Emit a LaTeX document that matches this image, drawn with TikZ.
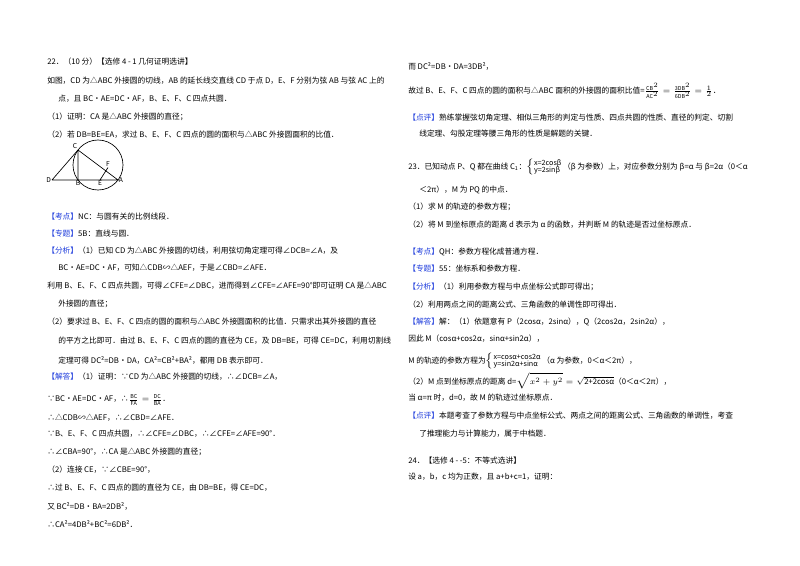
\documentclass[tikz,border=0pt]{standalone}
\usepackage{fontspec}
\setmainfont{Noto Sans CJK SC}
\definecolor{lb}{RGB}{30,60,220}
\newcommand{\bk}[1]{\textcolor{lb}{【#1】}}
\newcommand{\csys}[2]{$\left\{\mbox{\fontsize{5.4pt}{6pt}\selectfont\begin{tabular}{@{}l@{}}#1\\[-1pt] #2\end{tabular}}\right.$}
\begin{document}
\begin{tikzpicture}[x=0.75pt,y=-0.75pt,
  t/.style={anchor=west,inner sep=0,font=\fontsize{5.8pt}{7pt}\selectfont},
  lab/.style={inner sep=0.5pt,font=\fontsize{5pt}{6pt}\selectfont\itshape}]
\useasboundingbox (0,0) rectangle (800,565);
% left column
\node[t] (l1) at (47,62) {22．（10 分）【选修 4 - 1 几何证明选讲】};
\node[t] (l2) at (47,81) {如图，CD 为△ABC 外接圆的切线，AB 的延长线交直线 CD 于点 D，E、F 分别为弦 AB 与弦 AC 上的};
\node[t] (l3) at (58,99) {点，且 BC•AE=DC•AF，B、E、F、C 四点共圆．};
\node[t] (l4) at (47,117) {（1）证明：CA 是△ABC 外接圆的直径；};
\node[t] (l5) at (47,135) {（2）若 DB=BE=EA，求过 B、E、F、C 四点的圆的面积与△ABC 外接圆面积的比值．};
% figure
\coordinate (O) at (98,165);
\draw[line width=0.5pt] (O) circle[radius=25];
\coordinate (C) at (78,150); \coordinate (D) at (52,180);
\coordinate (B) at (78,180); \coordinate (E) at (100,180);
\coordinate (A) at (118,180); \coordinate (F) at (108,167.5);
\draw[line width=0.5pt] (D)--(C)--(A)--(D) (C)--(B) (E)--(F);
\node[lab,above left] (nC) at (C) {C};
\node[lab,left] (nD) at (D) {D};
\node[lab,below] (nB) at (B) {B};
\node[lab,below] (nE) at (E) {E};
\node[lab,right] (nA) at (A) {A};
\node[lab,above] (nF) at (F) {F};
\node[t] (l6) at (47,217) {\bk{考点}NC：与圆有关的比例线段．};
\node[t] (l7) at (47,234) {\bk{专题}5B：直线与圆．};
\node[t] (l8) at (47,251) {\bk{分析}（1）已知 CD 为△ABC 外接圆的切线，利用弦切角定理可得∠DCB=∠A，及};
\node[t] (l9) at (58,268) {BC•AE=DC•AF，可知△CDB∽△AEF，于是∠CBD=∠AFE．};
\node[t] (l10) at (47,286) {利用 B、E、F、C 四点共圆，可得∠CFE=∠DBC，进而得到∠CFE=∠AFE=90°即可证明 CA 是△ABC};
\node[t] (l11) at (58,304) {外接圆的直径；};
\node[t] (l12) at (47,322) {（2）要求过 B、E、F、C 四点的圆的面积与△ABC 外接圆面积的比值．只需求出其外接圆的直径};
\node[t] (l13) at (58,341) {的平方之比即可．由过 B、E、F、C 四点的圆的直径为 CE，及 DB=BE，可得 CE=DC，利用切割线};
\node[t] (l14) at (58,360) {定理可得 DC²=DB•DA，CA²=CB²+BA²，都用 DB 表示即可．};
\node[t] (l15) at (47,377) {\bk{解答}（1）证明：∵CD 为△ABC 外接圆的切线，∴∠DCB=∠A，};
\node[t] (l16) at (47,400) {∵BC•AE=DC•AF，∴$\frac{\mathrm{BC}}{\mathrm{FA}}=\frac{\mathrm{DC}}{\mathrm{BA}}$．};
\node[t] (l17) at (47,418) {∴△CDB∽△AEF，∴∠CBD=∠AFE．};
\node[t] (l18) at (47,434) {∵B、E、F、C 四点共圆，∴∠CFE=∠DBC，∴∠CFE=∠AFE=90°．};
\node[t] (l19) at (47,452) {∴∠CBA=90°，∴CA 是△ABC 外接圆的直径；};
\node[t] (l20) at (47,470) {（2）连接 CE，∵∠CBE=90°，};
\node[t] (l21) at (47,488) {∴过 B、E、F、C 四点的圆的直径为 CE，由 DB=BE，得 CE=DC，};
\node[t] (l22) at (47,506) {又 BC²=DB•BA=2DB²，};
\node[t] (l23) at (47,524) {∴CA²=4DB²+BC²=6DB²．};
% right column
\node[t] (r1) at (408,66) {而 DC²=DB•DA=3DB²，};
\node[t] (r2) at (408,91) {故过 B、E、F、C 四点的圆的面积与△ABC 面积的外接圆的面积比值=$\frac{\mathrm{CB}^2}{\mathrm{AC}^2}=\frac{\mathrm{3DB}^2}{\mathrm{6DB}^2}=\frac{1}{2}$．};
\node[t] (r3) at (408,118) {\bk{点评}熟练掌握弦切角定理、相似三角形的判定与性质、四点共圆的性质、直径的判定、切割};
\node[t] (r4) at (419,134) {线定理、勾股定理等腰三角形的性质是解题的关键．};
\node[t] (r5) at (408,167) {23．已知动点 P、Q 都在曲线 C\textsubscript{1}：\csys{x=2cosβ}{y=2sinβ}（β 为参数）上，对应参数分别为 β=α 与 β=2α（0＜α};
\node[t] (r6) at (419,190) {＜2π），M 为 PQ 的中点．};
\node[t] (r7) at (408,207) {（1）求 M 的轨迹的参数方程；};
\node[t] (r8) at (408,225) {（2）将 M 到坐标原点的距离 d 表示为 α 的函数，并判断 M 的轨迹是否过坐标原点．};
\node[t] (r9) at (408,252) {\bk{考点}QH：参数方程化成普通方程．};
\node[t] (r10) at (408,269) {\bk{专题}55：坐标系和参数方程．};
\node[t] (r11) at (408,287) {\bk{分析}（1）利用参数方程与中点坐标公式即可得出；};
\node[t] (r12) at (408,305) {（2）利用两点之间的距离公式、三角函数的单调性即可得出．};
\node[t] (r13) at (408,322) {\bk{解答}解：（1）依题意有 P（2cosα，2sinα），Q（2cos2α，2sin2α），};
\node[t] (r14) at (408,339) {因此 M（cosα+cos2α，sinα+sin2α），};
\node[t] (r15) at (408,361) {M 的轨迹的参数方程为\csys{x=cosα+cos2α}{y=sin2α+sinα}（α 为参数，0＜α＜2π），};
\node[t] (r16) at (408,381) {（2）M 点到坐标原点的距离 d=$\sqrt{x^2+y^2}=\sqrt{\mbox{2+2cosα}}$（0＜α＜2π），};
\node[t] (r17) at (408,398) {当 α=π 时，d=0，故 M 的轨迹过坐标原点．};
\node[t] (r18) at (408,416) {\bk{点评}本题考查了参数方程与中点坐标公式、两点之间的距离公式、三角函数的单调性，考查};
\node[t] (r19) at (419,434) {了推理能力与计算能力，属于中档题．};
\node[t] (r20) at (408,461) {24．【选修 4 - -5：不等式选讲】};
\node[t] (r21) at (408,477) {设 a，b，c 均为正数，且 a+b+c=1，证明：};
\end{tikzpicture}
\end{document}
